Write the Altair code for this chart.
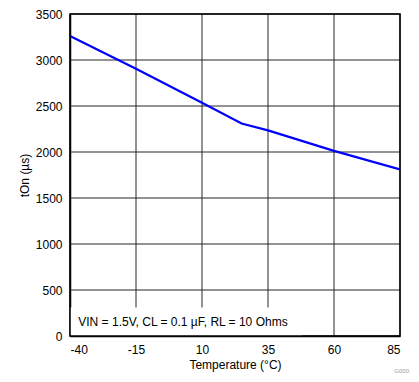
import altair as alt
import pandas as pd

temps = [-40, -15, 10, 25, 35, 60, 85]
ton = [3260, 2905, 2535, 2310, 2235, 2012, 1810]

x_ticks = [-40, -15, 10, 35, 60, 85]
y_ticks = [0, 500, 1000, 1500, 2000, 2500, 3000, 3500]

note_text = "VIN = 1.5V, CL = 0.1 µF, RL = 10 Ohms"
fig_id = "G000"

df = pd.DataFrame({"t": temps, "ton": ton})
FONT = "Liberation Sans"
GRID = "#262626"

xs = alt.Scale(domain=[-40, 85], nice=False, zero=False)
ys = alt.Scale(domain=[0, 3500], nice=False)

xgrid = alt.Chart(pd.DataFrame({"g": x_ticks})).mark_rule(
    color=GRID, strokeWidth=1, strokeOffset=0.5, opacity=1).encode(x=alt.X("g:Q", scale=xs))
ygrid = alt.Chart(pd.DataFrame({"g": y_ticks})).mark_rule(
    color=GRID, strokeWidth=1, strokeOffset=0.5, opacity=1).encode(y=alt.Y("g:Q", scale=ys))

line = alt.Chart(df).mark_line(color="#0000ff", strokeWidth=2.2, clip=True).encode(
    x=alt.X("t:Q", scale=xs,
            axis=alt.Axis(values=x_ticks, title="Temperature (°C)", grid=False,
                          labelExpr="toString(datum.value)",
                          domainColor="#000000", domainWidth=1.5,
                          ticks=False, labelPadding=8, labelFont=FONT, labelFontSize=12,
                          labelColor="#000000", titleFont=FONT, titleFontSize=12,
                          titleFontWeight="normal", titleColor="#000000", titlePadding=4)),
    y=alt.Y("ton:Q", scale=ys,
            axis=alt.Axis(values=y_ticks, title="tOn (µs)", grid=False,
                          labelExpr="toString(datum.value)",
                          domainColor="#000000", domainWidth=1.5,
                          ticks=False, labelPadding=8, labelFont=FONT, labelFontSize=12,
                          labelColor="#000000", titleFont=FONT, titleFontSize=12,
                          titleFontWeight="normal", titleColor="#000000", titlePadding=4)),
)

box_df = pd.DataFrame({"x1": [-40], "x2": [48], "y1": [0], "y2": [310]})
box = alt.Chart(box_df).mark_rect(color="white", opacity=1).encode(
    x=alt.X("x1:Q", scale=xs), x2="x2", y=alt.Y("y1:Q", scale=ys), y2="y2"
)

note_df = pd.DataFrame({"x": [-38], "y": [150], "txt": [note_text]})
note = alt.Chart(note_df).mark_text(align="left", baseline="middle", font=FONT,
                                    fontSize=12, color="#000000", dx=3).encode(
    x=alt.X("x:Q", scale=xs), y=alt.Y("y:Q", scale=ys), text="txt:N"
)

id_df = pd.DataFrame({"x": [85], "y": [0], "txt": [fig_id]})
idtext = alt.Chart(id_df).mark_text(align="right", baseline="middle", font=FONT,
                                    fontSize=6, color="#9a9a9a", dx=9, dy=35).encode(
    x=alt.X("x:Q", scale=xs), y=alt.Y("y:Q", scale=ys), text="txt:N"
)

frame_df = pd.DataFrame({"x1": [-40], "x2": [85], "y1": [0], "y2": [3500]})
frame = alt.Chart(frame_df).mark_rect(fillOpacity=0, stroke="#000000", strokeWidth=1.5).encode(
    x=alt.X("x1:Q", scale=xs), x2="x2", y=alt.Y("y1:Q", scale=ys), y2="y2"
)

chart = alt.layer(xgrid, ygrid, box, line, note, frame, idtext).properties(
    width=330, height=322,
    autosize=alt.AutoSizeParams(type="none"),
    padding={"left": 62, "top": 6, "right": 11, "bottom": 40},
).configure_view(stroke=None)

chart.save("out.html", embed_options={"renderer": "svg", "actions": False})
